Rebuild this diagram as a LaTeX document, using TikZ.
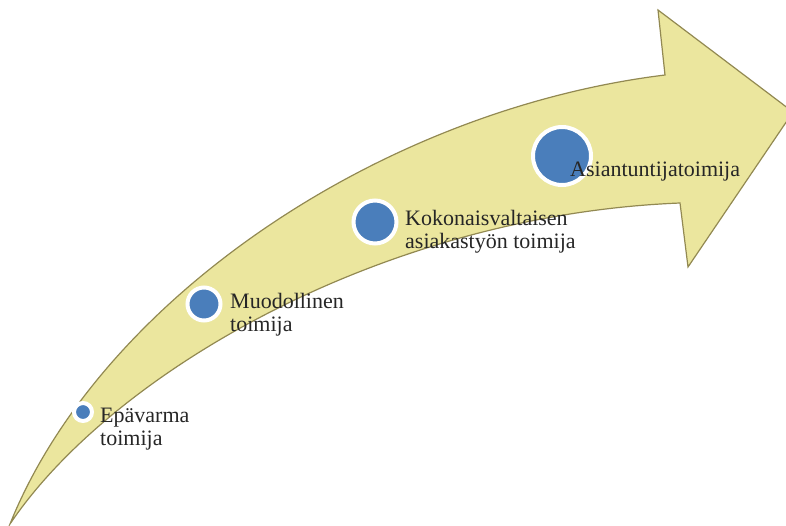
\documentclass[tikz,border=0pt]{standalone}
\usepackage{fontspec}
\setmainfont{Liberation Serif}
\usetikzlibrary{positioning}
\definecolor{arrowfill}{RGB}{235,230,158}
\definecolor{arrowline}{RGB}{146,137,82}
\definecolor{dotblue}{RGB}{74,126,187}

\begin{document}
\begin{tikzpicture}[x=1pt, y=-1pt,
    dot/.style={circle, fill=dotblue, draw=white, line width=4pt, inner sep=0pt},
    lbl/.style={anchor=base west, align=left, inner sep=0pt, font=\fontsize{22}{23}\selectfont, text=black!85}]
    \useasboundingbox (0,0) rectangle (786,525);

    % Drawing the curved arrow
    \draw[arrowline, fill=arrowfill, line width=1.2pt, line join=miter]
        (10,524) .. controls (100,300) and (380,110) .. (665,75)
        -- (658,10) -- (793,112) -- (688,267) -- (680,203)
        .. controls (380,215) and (110,375) .. (10,524) -- cycle;

    % Marking the stages
    \node[dot, minimum size=18pt] (epavarma) at (83,412) {};
    \node[dot, minimum size=33pt] (muodollinen) at (204,304) {};
    \node[dot, minimum size=43pt] (kokonais) at (375,222) {};
    \node[dot, minimum size=58pt] (asiantuntija) at (562,156) {};

    % Labels (anchored on the last line)
    \node[lbl] (epavarmaL) at (100,445) {Epävarma\\toimija};
    \node[lbl] (muodollinenL) at (230,331) {Muodollinen\\toimija};
    \node[lbl] (kokonaisL) at (405,248) {Kokonaisvaltaisen\\asiakastyön toimija};
    \node[lbl] (asiantuntijaL) at (570,176) {Asiantuntijatoimija};
\end{tikzpicture}
\end{document}
